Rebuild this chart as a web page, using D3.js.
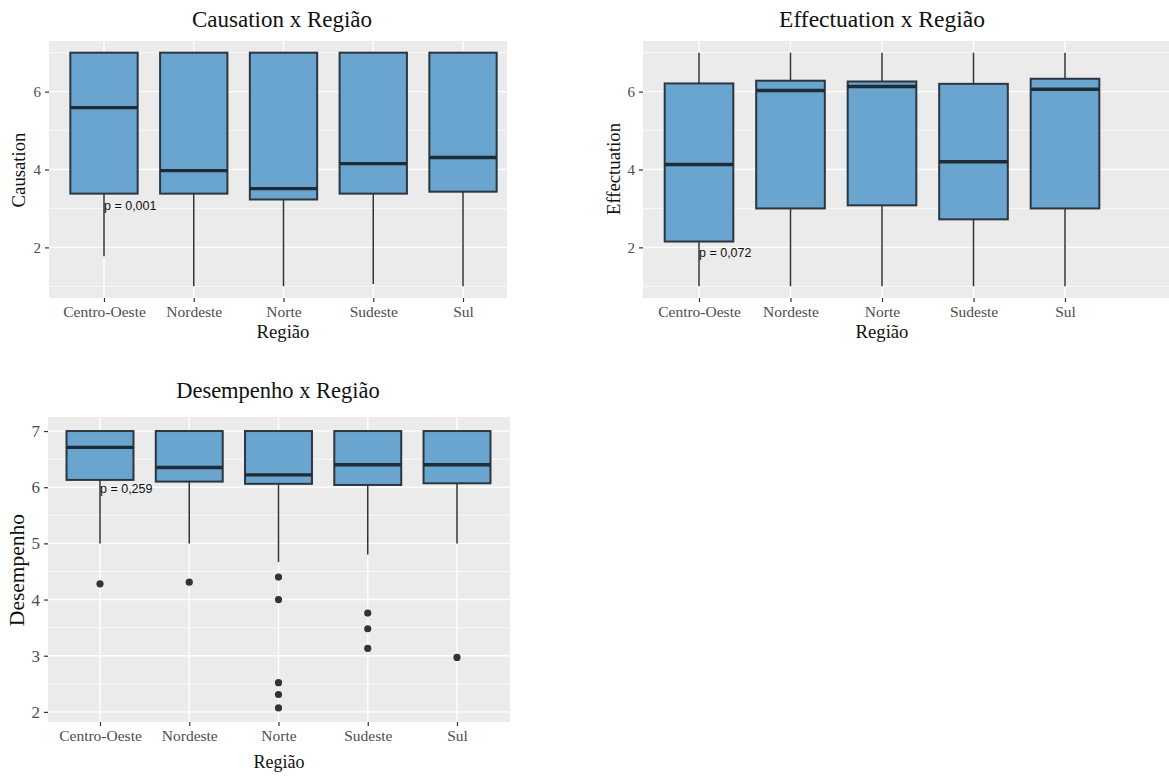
<!DOCTYPE html>
<html>
<head>
<meta charset="utf-8">
<script src="https://cdn.jsdelivr.net/npm/d3@7"></script>
<style>
  body { margin: 0; background: #fff; }
  svg { display: block; }
</style>
</head>
<body>
<svg id="chart" width="1169" height="776"></svg>
<script>
// categories
var regions = ["Centro-Oeste", "Nordeste", "Norte", "Sudeste", "Sul"];

// Causation box stats (whisker low, Q1, median, Q3, whisker high)
var causationLow  = [1.77, 1, 1, 1.06, 1];
var causationQ1   = [3.38, 3.38, 3.23, 3.38, 3.43];
var causationMed  = [5.59, 3.97, 3.51, 4.15, 4.31];
var causationQ3   = [7, 7, 7, 7, 7];
var causationHigh = [7, 7, 7, 7, 7];

// Effectuation box stats
var effectLow  = [1, 1, 1, 1, 1];
var effectQ1   = [2.15, 3.0, 3.08, 2.72, 3.0];
var effectMed  = [4.13, 6.03, 6.13, 4.2, 6.06];
var effectQ3   = [6.21, 6.28, 6.26, 6.2, 6.33];
var effectHigh = [7, 7, 7, 7, 7];

// Desempenho box stats + outliers
var desempLow  = [5, 5, 4.67, 4.8, 5];
var desempQ1   = [6.13, 6.1, 6.06, 6.04, 6.07];
var desempMed  = [6.71, 6.35, 6.22, 6.4, 6.4];
var desempQ3   = [7, 7, 7, 7, 7];
var desempHigh = [7, 7, 7, 7, 7];
var desempOutliers = [[4.28], [4.31], [4.4, 4.0, 2.52, 2.31, 2.07], [3.76, 3.48, 3.13], [2.97]];

// p-value labels and the y value they sit at
var pLabels = ["p = 0,001", "p = 0,072", "p = 0,259"];
var pLabelY = [3.08, 1.87, 5.97];

var svg = d3.select("#chart");

var FILL = "#69a5ce", EDGE = "#2b3640", MED = "#1f2c38";

function boxData(low, q1, med, q3, high, outl) {
    return regions.map(function(r, i) {
        return {region: r, low: low[i], q1: q1[i], med: med[i], q3: q3[i], high: high[i],
                outliers: outl ? outl[i] : []};
    });
}

//
// one ggplot-like boxplot panel
//
function drawPanel(cfg, data, title, yTitle, pText, pY) {
    var g = svg.append("g");
    var x = d3.scalePoint().domain(regions).range([cfg.cx0, cfg.cx1]);
    var y = d3.scaleLinear().domain(cfg.yDomain).range([cfg.bottom, cfg.top]);
    var bw = x.step() * 0.75;

    g.append("rect")
        .attr("x", cfg.left).attr("y", cfg.top)
        .attr("width", cfg.right - cfg.left).attr("height", cfg.bottom - cfg.top)
        .style("fill", "#ebebeb");

    // minor grid
    g.selectAll(".minor").data(cfg.minor).enter().append("line")
        .attr("x1", cfg.left).attr("x2", cfg.right)
        .attr("y1", function(d) { return y(d); }).attr("y2", function(d) { return y(d); })
        .style("stroke", "#fff").style("stroke-width", 0.7);
    // major grid
    g.selectAll(".major").data(cfg.ticks).enter().append("line")
        .attr("x1", cfg.left).attr("x2", cfg.right)
        .attr("y1", function(d) { return y(d); }).attr("y2", function(d) { return y(d); })
        .style("stroke", "#fff").style("stroke-width", 1.4);
    g.selectAll(".vgrid").data(regions).enter().append("line")
        .attr("x1", function(d) { return x(d); }).attr("x2", function(d) { return x(d); })
        .attr("y1", cfg.top).attr("y2", cfg.bottom)
        .style("stroke", "#fff").style("stroke-width", 1.4);

    // axes
    var ya = g.append("g").attr("transform", "translate(" + cfg.left + ",0)")
        .call(d3.axisLeft(y).tickValues(cfg.ticks).tickSize(4).tickPadding(4).tickFormat(d3.format("d")));
    var xa = g.append("g").attr("transform", "translate(0," + cfg.bottom + ")")
        .call(d3.axisBottom(x).tickSize(4).tickPadding(4));
    [ya, xa].forEach(function(a) {
        a.select(".domain").remove();
        a.selectAll("line").style("stroke", "#333").style("stroke-width", 1.2);
        a.selectAll("text").style("fill", "#4d4d4d").style("font-family", "Liberation Serif, serif");
    });
    ya.selectAll("text").style("font-size", cfg.yTickSize + "px");
    xa.selectAll("text").style("font-size", "15.5px");

    // whiskers
    var boxes = g.selectAll(".box").data(data).enter().append("g");
    boxes.append("line")
        .attr("x1", function(d) { return x(d.region); }).attr("x2", function(d) { return x(d.region); })
        .attr("y1", function(d) { return y(d.low); }).attr("y2", function(d) { return y(d.q1); })
        .style("stroke", "#333").style("stroke-width", 1.5);
    boxes.append("line")
        .attr("x1", function(d) { return x(d.region); }).attr("x2", function(d) { return x(d.region); })
        .attr("y1", function(d) { return y(d.q3); }).attr("y2", function(d) { return y(d.high); })
        .style("stroke", "#333").style("stroke-width", 1.5);
    boxes.append("rect")
        .attr("x", function(d) { return x(d.region) - bw / 2; })
        .attr("y", function(d) { return y(d.q3); })
        .attr("width", bw)
        .attr("height", function(d) { return y(d.q1) - y(d.q3); })
        .style("fill", FILL).style("stroke", EDGE).style("stroke-width", 2);
    boxes.append("line")
        .attr("x1", function(d) { return x(d.region) - bw / 2; })
        .attr("x2", function(d) { return x(d.region) + bw / 2; })
        .attr("y1", function(d) { return y(d.med); }).attr("y2", function(d) { return y(d.med); })
        .style("stroke", MED).style("stroke-width", 3.4);
    boxes.selectAll("circle").data(function(d) {
            return d.outliers.map(function(v) { return {region: d.region, v: v}; });
        }).enter().append("circle")
        .attr("cx", function(d) { return x(d.region); })
        .attr("cy", function(d) { return y(d.v); })
        .attr("r", 3.6)
        .style("fill", "#333");

    // p-value
    g.append("text")
        .text(pText)
        .attr("x", x(regions[0]))
        .attr("y", y(pY) + 4.5)
        .style("font-family", "Liberation Sans, Arial, sans-serif")
        .style("font-size", "12.5px")
        .style("fill", "#111");

    // titles
    g.append("text").text(title)
        .attr("x", cfg.titleX).attr("y", cfg.titleY)
        .attr("text-anchor", "middle")
        .style("font-family", "Liberation Serif, serif").style("font-size", cfg.titleSize + "px")
        .style("fill", "#111");
    g.append("text").text("Região")
        .attr("x", cfg.xTitleX).attr("y", cfg.xTitleY)
        .attr("text-anchor", "middle")
        .style("font-family", "Liberation Serif, serif").style("font-size", cfg.xTitleSize + "px")
        .style("fill", "#111");
    g.append("text").text(yTitle)
        .attr("transform", "translate(" + cfg.yTitleX + "," + cfg.yTitleY + ") rotate(-90)")
        .attr("text-anchor", "middle")
        .style("font-family", "Liberation Serif, serif").style("font-size", cfg.yTitleSize + "px")
        .style("fill", "#111");
}

drawPanel({left: 49, right: 507, top: 41, bottom: 298, cx0: 104, cx1: 463,
           yDomain: [0.7, 7.3], ticks: [2, 4, 6], minor: [1, 3, 5, 7], yTickSize: 15,
           titleX: 282, titleY: 27, titleSize: 23,
           xTitleX: 283, xTitleY: 338, xTitleSize: 18.7,
           yTitleX: 25, yTitleY: 170, yTitleSize: 18.7},
    boxData(causationLow, causationQ1, causationMed, causationQ3, causationHigh),
    "Causation x Região", "Causation", pLabels[0], pLabelY[0]);

drawPanel({left: 643, right: 1169, top: 41, bottom: 298, cx0: 699, cx1: 1065,
           yDomain: [0.7, 7.3], ticks: [2, 4, 6], minor: [1, 3, 5, 7], yTickSize: 15,
           titleX: 882, titleY: 27, titleSize: 23.5,
           xTitleX: 882, xTitleY: 338, xTitleSize: 18.7,
           yTitleX: 620, yTitleY: 169, yTitleSize: 18.7},
    boxData(effectLow, effectQ1, effectMed, effectQ3, effectHigh),
    "Effectuation x Região", "Effectuation", pLabels[1], pLabelY[1]);

drawPanel({left: 48, right: 510, top: 417, bottom: 722, cx0: 100, cx1: 457,
           yDomain: [1.82, 7.25], ticks: [2, 3, 4, 5, 6, 7], minor: [2.5, 3.5, 4.5, 5.5, 6.5], yTickSize: 17,
           titleX: 278, titleY: 398, titleSize: 22.5,
           xTitleX: 279, xTitleY: 768, xTitleSize: 18,
           yTitleX: 24, yTitleY: 570, yTitleSize: 21.5},
    boxData(desempLow, desempQ1, desempMed, desempQ3, desempHigh, desempOutliers),
    "Desempenho x Região", "Desempenho", pLabels[2], pLabelY[2]);
</script>
</body>
</html>
